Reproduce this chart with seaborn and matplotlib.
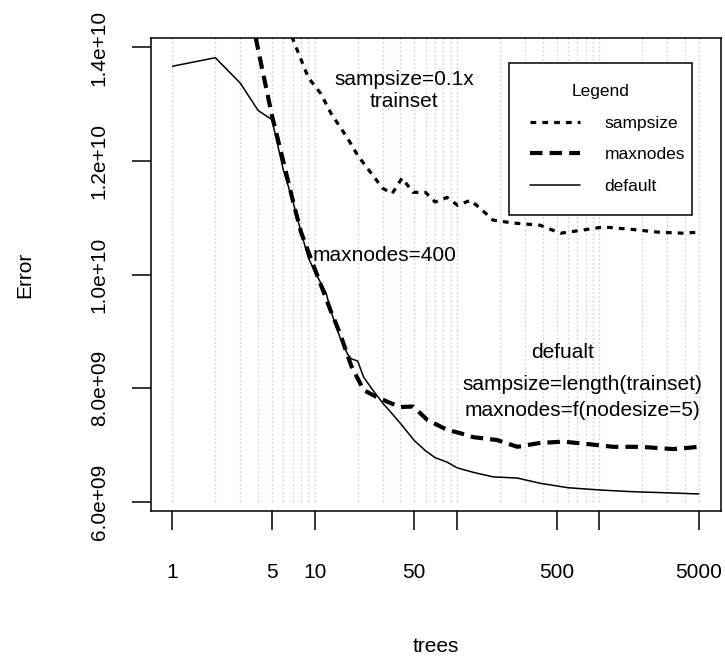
import matplotlib
matplotlib.use('Agg')
import matplotlib.pyplot as plt
import seaborn as sns
import numpy as np

sns.set_theme(style='white')
plt.rcParams['font.family'] = ['Liberation Sans', 'DejaVu Sans']
plt.rcParams['text.color'] = 'black'
plt.rcParams['axes.labelcolor'] = 'black'
plt.rcParams['xtick.color'] = 'black'
plt.rcParams['ytick.color'] = 'black'

# 트리 개수별 오차 (단위 1e9), 그림에서 읽은 값
trees_default = [1, 2, 3, 4, 5, 6, 7, 8, 9, 10, 12, 13, 15, 17, 18, 20, 22, 25, 30, 35,
                 40, 50, 60, 70, 85, 100, 130, 180, 265, 380, 600, 1000, 1700, 3000, 5000]
err_default = [13.67, 13.82, 13.37, 12.89, 12.73, 11.85, 11.30, 10.75, 10.30, 10.05, 9.68, 9.35,
               8.90, 8.60, 8.52, 8.48, 8.20, 8.00, 7.74, 7.55, 7.38, 7.08, 6.90, 6.78, 6.70,
               6.60, 6.52, 6.44, 6.42, 6.33, 6.25, 6.21, 6.18, 6.16, 6.14]

trees_maxnodes = [3, 4, 5, 6, 7, 8, 10, 13, 15, 18, 22, 27, 34, 40, 49, 62, 85, 105, 130,
                  190, 265, 385, 560, 820, 1250, 1950, 3300, 5000]
err_maxnodes = [15.50, 13.96, 12.80, 12.00, 11.31, 10.75, 10.10, 9.35, 8.97, 8.40, 7.97,
                7.85, 7.74, 7.67, 7.68, 7.44, 7.27, 7.21, 7.14, 7.09, 6.97, 7.04, 7.06,
                7.02, 6.97, 6.97, 6.93, 6.97]

trees_sampsize = [6, 7, 9, 11, 13, 17, 20, 25, 30, 35, 41, 49, 60, 70, 85, 101, 124, 145,
                  179, 248, 384, 531, 735, 1067, 1652, 2560, 3908, 5000]
err_sampsize = [14.80, 14.15, 13.47, 13.19, 12.84, 12.40, 12.10, 11.78, 11.52, 11.43, 11.70,
                11.45, 11.45, 11.28, 11.36, 11.22, 11.31, 11.17, 10.96, 10.91, 10.87, 10.73,
                10.78, 10.84, 10.80, 10.75, 10.73, 10.75]

grid_x = [1, 2, 3, 4, 5, 6, 7, 8, 9, 10, 20, 30, 40, 50, 60, 70, 80, 90, 100,
          200, 300, 400, 500, 600, 700, 800, 900, 1000, 2000, 3000, 4000, 5000]
xticks = [1, 5, 10, 50, 100, 500, 1000, 5000]
xticklabels = ['1', '5', '10', '50', '', '500', '', '5000']
yticks = [6e9, 8e9, 1e10, 1.2e10, 1.4e10]
yticklabels = ['6.0e+09', '8.0e+09', '1.0e+10', '1.2e+10', '1.4e+10']

fig = plt.figure(figsize=(7.25, 6.61), dpi=100)
ax = fig.add_axes([151 / 725, 1 - 511 / 661, 570 / 725, 473 / 661])

ax.vlines(grid_x, 6.0e9, 1.45e10, colors='#d6d6d6', linestyles=(0, (1.5, 1.5)), lw=1, zorder=0)

sns.lineplot(x=trees_sampsize, y=np.array(err_sampsize) * 1e9, ax=ax, color='black', lw=2.3,
             linestyle=(0, (1.8, 1.9)), label='sampsize')
sns.lineplot(x=trees_maxnodes, y=np.array(err_maxnodes) * 1e9, ax=ax, color='black', lw=3.0,
             linestyle=(0, (3.0, 1.7)), label='maxnodes')
sns.lineplot(x=trees_default, y=np.array(err_default) * 1e9, ax=ax, color='black', lw=1.1,
             label='default')

ax.set_xscale('log')
ax.set_xlim(10 ** -0.151, 10 ** 3.854)
ax.set_ylim(5.84e9, 14.167e9)
ax.set_xticks(xticks)
ax.set_xticklabels(xticklabels)
ax.minorticks_off()
ax.set_yticks(yticks)
ax.set_yticklabels(yticklabels, rotation=90, va='center')
ax.tick_params(axis='both', direction='out', length=13.5, width=1.1, color='black',
               labelsize=15, left=True, bottom=True)
ax.tick_params(axis='x', pad=24)
ax.tick_params(axis='y', pad=17)
for s in ax.spines.values():
    s.set_color('black')
    s.set_linewidth(1.1)

ax.set_xlabel('')
ax.set_ylabel('')
fig.text(436 / 725, 1 - 647 / 661, 'trees', ha='center', va='center', fontsize=15)
fig.text(25 / 725, 1 - 275 / 661, 'Error', ha='center', va='center', rotation=90, fontsize=15)

ax.text(42.4, 13.24e9, 'sampsize=0.1x\ntrainset', ha='center', va='center', fontsize=15)
ax.text(31.1, 10.34e9, 'maxnodes=400', ha='center', va='center', fontsize=15)
ax.text(549, 8.638e9, 'defualt', ha='center', va='center', fontsize=15)
ax.text(759, 8.075e9, 'sampsize=length(trainset)', ha='center', va='center', fontsize=15)
ax.text(759, 7.618e9, 'maxnodes=f(nodesize=5)', ha='center', va='center', fontsize=15)

leg = ax.legend(loc='upper left', bbox_to_anchor=(0.628, 0.947, 0.321, 0.0), mode='expand',
                borderaxespad=0, title='Legend', fontsize=12.5, title_fontsize=12.5,
                frameon=True, fancybox=False, framealpha=1, edgecolor='black',
                handlelength=2.9, handletextpad=1.4, labelspacing=0.95, borderpad=1.2)
leg.get_frame().set_linewidth(1.1)
leg._legend_box.sep = 12

fig.savefig('out.png', dpi=100, facecolor='white')
